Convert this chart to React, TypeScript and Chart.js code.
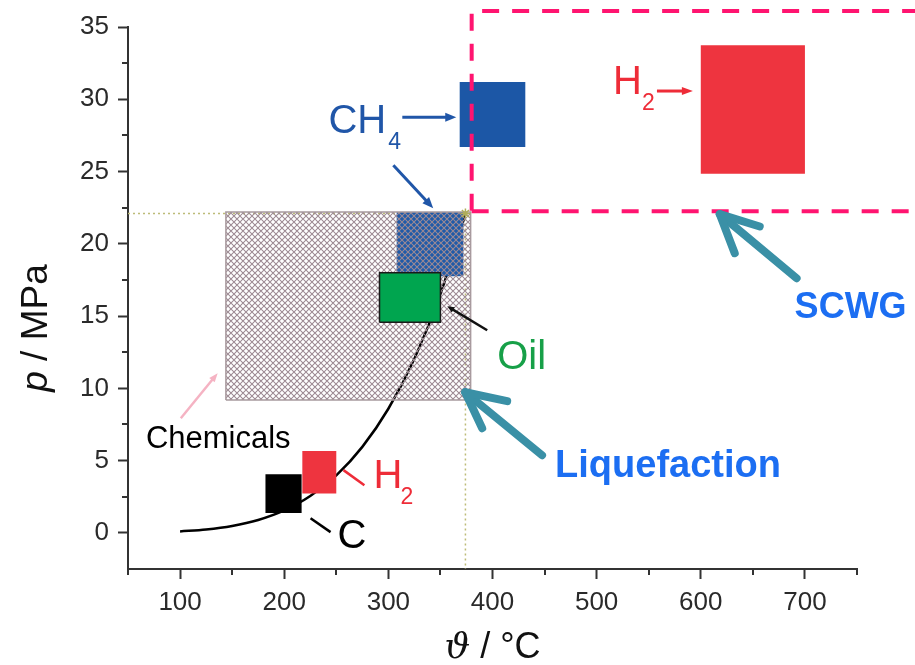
import React, { useEffect, useRef } from 'react';
import { Chart, registerables } from 'chart.js';

Chart.register(...registerables);

// ---- data (temperature in °C, pressure in MPa) ----
const tempTicks = [100, 200, 300, 400, 500, 600, 700];
const pressureTicks = [0, 5, 10, 15, 20, 25, 30, 35];

const satTemperature = [100, 125, 150, 175, 200, 225, 250, 275, 300, 325, 350, 374];
const satPressure = [0.101, 0.232, 0.476, 0.892, 1.555, 2.548, 3.976, 5.949, 8.588, 12.05, 16.53, 22.06];

const chemicalsT = [144, 379];
const chemicalsP = [9.2, 22.2];
const ch4LiqT = [308, 372];
const ch4LiqP = [17.75, 22.2];
const oilT = [291.5, 350];
const oilP = [14.57, 18.0];
const ch4ScwgT = [368.5, 431.5];
const ch4ScwgP = [26.7, 31.2];
const h2ScwgT = [600, 700];
const h2ScwgP = [24.85, 33.73];
const h2LowT = [217.4, 250];
const h2LowP = [2.72, 5.67];
const carbonT = [182, 216.7];
const carbonP = [1.38, 4.06];
const scwgT = [380, 830];
const scwgP = [22.25, 36.1];
const criticalT = [374];
const criticalP = [22.1];
const axisMinT = 50;
const axisMinP = -2.5;

const FONT = "'Liberation Sans', Arial, sans-serif";

function rect(ts: number[], ps: number[]) {
  return [
    { x: ts[0], y: ps[0] },
    { x: ts[1], y: ps[0] },
    { x: ts[1], y: ps[1] },
    { x: ts[0], y: ps[1] },
    { x: ts[0], y: ps[0] },
  ];
}

function makeHatch(color: string) {
  const s = 6;
  const c = document.createElement('canvas');
  c.width = s;
  c.height = s;
  const g = c.getContext('2d')!;
  g.strokeStyle = color;
  g.lineWidth = 1.05;
  g.beginPath();
  g.moveTo(-1, -1);
  g.lineTo(s + 1, s + 1);
  g.moveTo(-1, s + 1);
  g.lineTo(s + 1, -1);
  g.stroke();
  return g.createPattern(c, 'repeat')!;
}

function drawArrow(ctx: CanvasRenderingContext2D, x1: number, y1: number, x2: number, y2: number, color: string, lw: number, headLen: number, headW: number) {
  const a = Math.atan2(y2 - y1, x2 - x1);
  const ca = Math.cos(a), sa = Math.sin(a);
  ctx.strokeStyle = color;
  ctx.fillStyle = color;
  ctx.lineWidth = lw;
  ctx.lineCap = 'butt';
  ctx.beginPath();
  ctx.moveTo(x1, y1);
  ctx.lineTo(x2 - ca * headLen * 0.8, y2 - sa * headLen * 0.8);
  ctx.stroke();
  ctx.beginPath();
  ctx.moveTo(x2, y2);
  ctx.lineTo(x2 - headLen * ca + (headW / 2) * sa, y2 - headLen * sa - (headW / 2) * ca);
  ctx.lineTo(x2 - headLen * ca - (headW / 2) * sa, y2 - headLen * sa + (headW / 2) * ca);
  ctx.closePath();
  ctx.fill();
}

const overlayPlugin = {
  id: 'overlay',
  afterDraw(chart: any) {
    const ctx: CanvasRenderingContext2D = chart.ctx;
    const xs = chart.scales.x;
    const ys = chart.scales.y;
    const X = (v: number) => xs.getPixelForValue(v);
    const Y = (v: number) => ys.getPixelForValue(v);
    const area = chart.chartArea;
    ctx.save();

    // minor ticks
    ctx.strokeStyle = '#333';
    ctx.lineWidth = 2;
    ctx.beginPath();
    xs.ticks.forEach((t: any) => {
      if (!tempTicks.includes(t.value)) {
        const px = Math.round(X(t.value));
        ctx.moveTo(px, area.bottom);
        ctx.lineTo(px, area.bottom + 6);
      }
    });
    ys.ticks.forEach((t: any) => {
      if (!pressureTicks.includes(t.value) && t.value > axisMinP) {
        const py = Math.round(Y(t.value));
        ctx.moveTo(area.left - 6, py);
        ctx.lineTo(area.left, py);
      }
    });
    ctx.stroke();

    // axis titles
    ctx.fillStyle = '#111';
    ctx.textBaseline = 'alphabetic';
    ctx.textAlign = 'left';
    {
      const f1 = `italic 36px 'DejaVu Serif', serif`;
      const f2 = `36px ${FONT}`;
      ctx.font = f1;
      const w1 = ctx.measureText('ϑ').width;
      ctx.font = f2;
      const w2 = ctx.measureText(' / °C').width;
      const cx = (area.left + area.right) / 2;
      const x0 = cx - (w1 + w2) / 2;
      ctx.font = f1;
      ctx.fillText('ϑ', x0, 658);
      ctx.font = f2;
      ctx.fillText(' / °C', x0 + w1, 658);
    }
    {
      const f1 = `italic 37px ${FONT}`;
      const f2 = `37px ${FONT}`;
      ctx.font = f1;
      const w1 = ctx.measureText('p').width;
      ctx.font = f2;
      const w2 = ctx.measureText(' / MPa').width;
      ctx.save();
      ctx.translate(47, 328);
      ctx.rotate(-Math.PI / 2);
      const x0 = -(w1 + w2) / 2;
      ctx.font = f1;
      ctx.fillText('p', x0, 0);
      ctx.font = f2;
      ctx.fillText(' / MPa', x0 + w1, 0);
      ctx.restore();
    }

    const text = (s: string, xv: number, yv: number, font: string, color: string) => {
      ctx.font = font;
      ctx.fillStyle = color;
      ctx.fillText(s, X(xv), Y(yv));
    };

    // CH4 label and arrows
    const blue = '#2056a8';
    text('CH', 242.5, 27.65, `40px ${FONT}`, blue);
    text('4', 300, 26.54, `23px ${FONT}`, blue);
    drawArrow(ctx, X(313.4), Y(28.75), X(365.2), Y(28.75), blue, 3, 11, 9);
    drawArrow(ctx, X(304.8), Y(25.43), X(343.1), Y(22.46), blue, 3, 11, 9);

    // H2 upper
    const red = '#ee2c38';
    text('H', 515.7, 30.35, `40px ${FONT}`, red);
    text('2', 543.5, 29.24, `23px ${FONT}`, red);
    drawArrow(ctx, X(557.9), Y(30.57), X(592.4), Y(30.57), red, 3, 11, 8);

    // H2 lower
    text('H', 285.7, 3.09, `40px ${FONT}`, red);
    text('2', 311.6, 1.985, `23px ${FONT}`, red);
    ctx.strokeStyle = red;
    ctx.lineWidth = 2.5;
    ctx.beginPath();
    ctx.moveTo(X(256.9), Y(4.34));
    ctx.lineTo(X(277), Y(3.3));
    ctx.stroke();

    // C
    text('C', 251.2, -1.06, `40px ${FONT}`, '#000');
    ctx.strokeStyle = '#000';
    ctx.lineWidth = 2.5;
    ctx.beginPath();
    ctx.moveTo(X(225.3), Y(1.017));
    ctx.lineTo(X(244.5), Y(0.05));
    ctx.stroke();

    // Oil
    text('Oil', 404.5, 11.32, `40px ${FONT}`, '#17a048');
    drawArrow(ctx, X(394.9), Y(14.02), X(356.6), Y(15.68), '#111', 2.5, 7, 6);

    // Chemicals
    text('Chemicals', 67.2, 5.86, `31px ${FONT}`, '#000');
    drawArrow(ctx, X(100.7), Y(7.93), X(136.1), Y(11.05), '#f5b3c3', 2.5, 9, 7);

    // Liquefaction / SCWG labels
    text('Liquefaction', 460.1, 3.87, `bold 38px ${FONT}`, '#1c6ef2');
    text('SCWG', 690.1, 14.85, `bold 36px ${FONT}`, '#1c6ef2');

    // teal arrows
    const teal = '#3a90a6';
    const chevron = (tx: number, ty: number, hx: number, hy: number, ax: number, ay: number, bx: number, by: number) => {
      ctx.strokeStyle = teal;
      ctx.lineWidth = 8;
      ctx.lineCap = 'round';
      ctx.lineJoin = 'round';
      ctx.beginPath();
      ctx.moveTo(X(tx), Y(ty));
      ctx.lineTo(X(hx), Y(hy));
      ctx.stroke();
      ctx.beginPath();
      ctx.moveTo(X(ax), Y(ay));
      ctx.lineTo(X(hx), Y(hy));
      ctx.lineTo(X(bx), Y(by));
      ctx.stroke();
    };
    chevron(692, 17.62, 618.2, 22.05, 656.6, 21.2, 632.6, 19.35);
    chevron(447.6, 5.37, 373.8, 9.73, 414.1, 9.11, 390.1, 7.24);

    ctx.restore();
  },
};

export default function App() {
  const ref = useRef<HTMLCanvasElement | null>(null);

  useEffect(() => {
    if (!ref.current) return;
    const hatch = makeHatch('#9d8a93');
    const solid = (ts: number[], ps: number[], color: string, order: number, border?: string) => ({
      data: rect(ts, ps),
      fill: 'shape',
      backgroundColor: color,
      borderColor: border || color,
      borderWidth: border ? 1.5 : 0,
      pointRadius: 0,
      order,
    });
    const chart = new Chart(ref.current, {
      type: 'line',
      data: {
        datasets: [
          {
            data: rect(scwgT, scwgP),
            borderColor: '#ff1470',
            borderWidth: 4,
            borderDash: [17, 13],
            fill: false,
            pointRadius: 0,
            clip: false,
            order: 0,
          } as any,
          solid(ch4ScwgT, ch4ScwgP, '#1c57a6', 1),
          solid(h2ScwgT, h2ScwgP, '#ee343f', 1),
          solid(h2LowT, h2LowP, '#ee343f', 1),
          solid(carbonT, carbonP, '#000000', 1),
          solid(oilT, oilP, '#00a54f', 1, '#1a1a1a'),
          {
            data: criticalT.map((t, i) => ({ x: t, y: criticalP[i] })),
            showLine: false,
            pointStyle: 'star',
            pointRadius: 5,
            pointBorderColor: '#b0ad5a',
            pointBorderWidth: 1.5,
            order: 1,
          } as any,
          {
            data: rect(chemicalsT, chemicalsP),
            fill: 'shape',
            backgroundColor: hatch,
            borderColor: '#a89a9e',
            borderWidth: 1.5,
            pointRadius: 0,
            order: 2,
          } as any,
          solid(ch4LiqT, ch4LiqP, '#1f5aa8', 3),
          {
            data: satTemperature.map((t, i) => ({ x: t, y: satPressure[i] })),
            borderColor: '#000',
            borderWidth: 2.5,
            cubicInterpolationMode: 'monotone',
            fill: false,
            pointRadius: 0,
            order: 4,
          } as any,
          {
            data: [
              { x: axisMinT, y: criticalP[0] },
              { x: criticalT[0], y: criticalP[0] },
            ],
            borderColor: '#bdbb78',
            borderWidth: 1.5,
            borderDash: [2, 3],
            fill: false,
            pointRadius: 0,
            order: 5,
          } as any,
          {
            data: [
              { x: criticalT[0], y: criticalP[0] },
              { x: criticalT[0], y: axisMinP },
            ],
            borderColor: '#bdbb78',
            borderWidth: 1.5,
            borderDash: [2, 3],
            fill: false,
            pointRadius: 0,
            order: 5,
          } as any,
        ] as any,
      },
      options: {
        responsive: false,
        animation: false,
        devicePixelRatio: 1,
        events: [],
        layout: { padding: { left: 0, top: 27, right: 58, bottom: 0 } },
        plugins: { legend: { display: false }, tooltip: { enabled: false } },
        scales: {
          x: {
            type: 'linear',
            min: axisMinT,
            max: 750,
            afterFit: (s: any) => {
              s.height = 96;
            },
            border: { display: true, color: '#333', width: 2 },
            grid: {
              drawOnChartArea: false,
              drawTicks: true,
              tickLength: 10,
              tickWidth: 2,
              tickColor: (c: any) => (tempTicks.includes(c.tick?.value) ? '#333' : 'rgba(0,0,0,0)'),
            },
            ticks: {
              stepSize: 50,
              autoSkip: false,
              maxRotation: 0,
              padding: 8,
              color: '#2a2a2a',
              font: { family: FONT, size: 26 },
              callback: (v: any) => (tempTicks.includes(v) ? String(v) : ''),
            },
          },
          y: {
            type: 'linear',
            min: axisMinP,
            max: 35,
            afterFit: (s: any) => {
              s.width = 128;
            },
            border: { display: true, color: '#333', width: 2 },
            grid: {
              drawOnChartArea: false,
              drawTicks: true,
              tickLength: 10,
              tickWidth: 2,
              tickColor: (c: any) => (pressureTicks.includes(c.tick?.value) ? '#333' : 'rgba(0,0,0,0)'),
            },
            ticks: {
              stepSize: 2.5,
              autoSkip: false,
              padding: 9,
              color: '#2a2a2a',
              font: { family: FONT, size: 26 },
              callback: (v: any) => (pressureTicks.includes(v) ? String(v) : ''),
            },
          },
        },
      } as any,
      plugins: [overlayPlugin],
    });
    return () => chart.destroy();
  }, []);

  return (
    <div style={{ position: 'absolute', left: 0, top: 0, width: 915, height: 665, background: '#fff' }}>
      <canvas ref={ref} width={915} height={665} style={{ display: 'block' }} />
    </div>
  );
}
